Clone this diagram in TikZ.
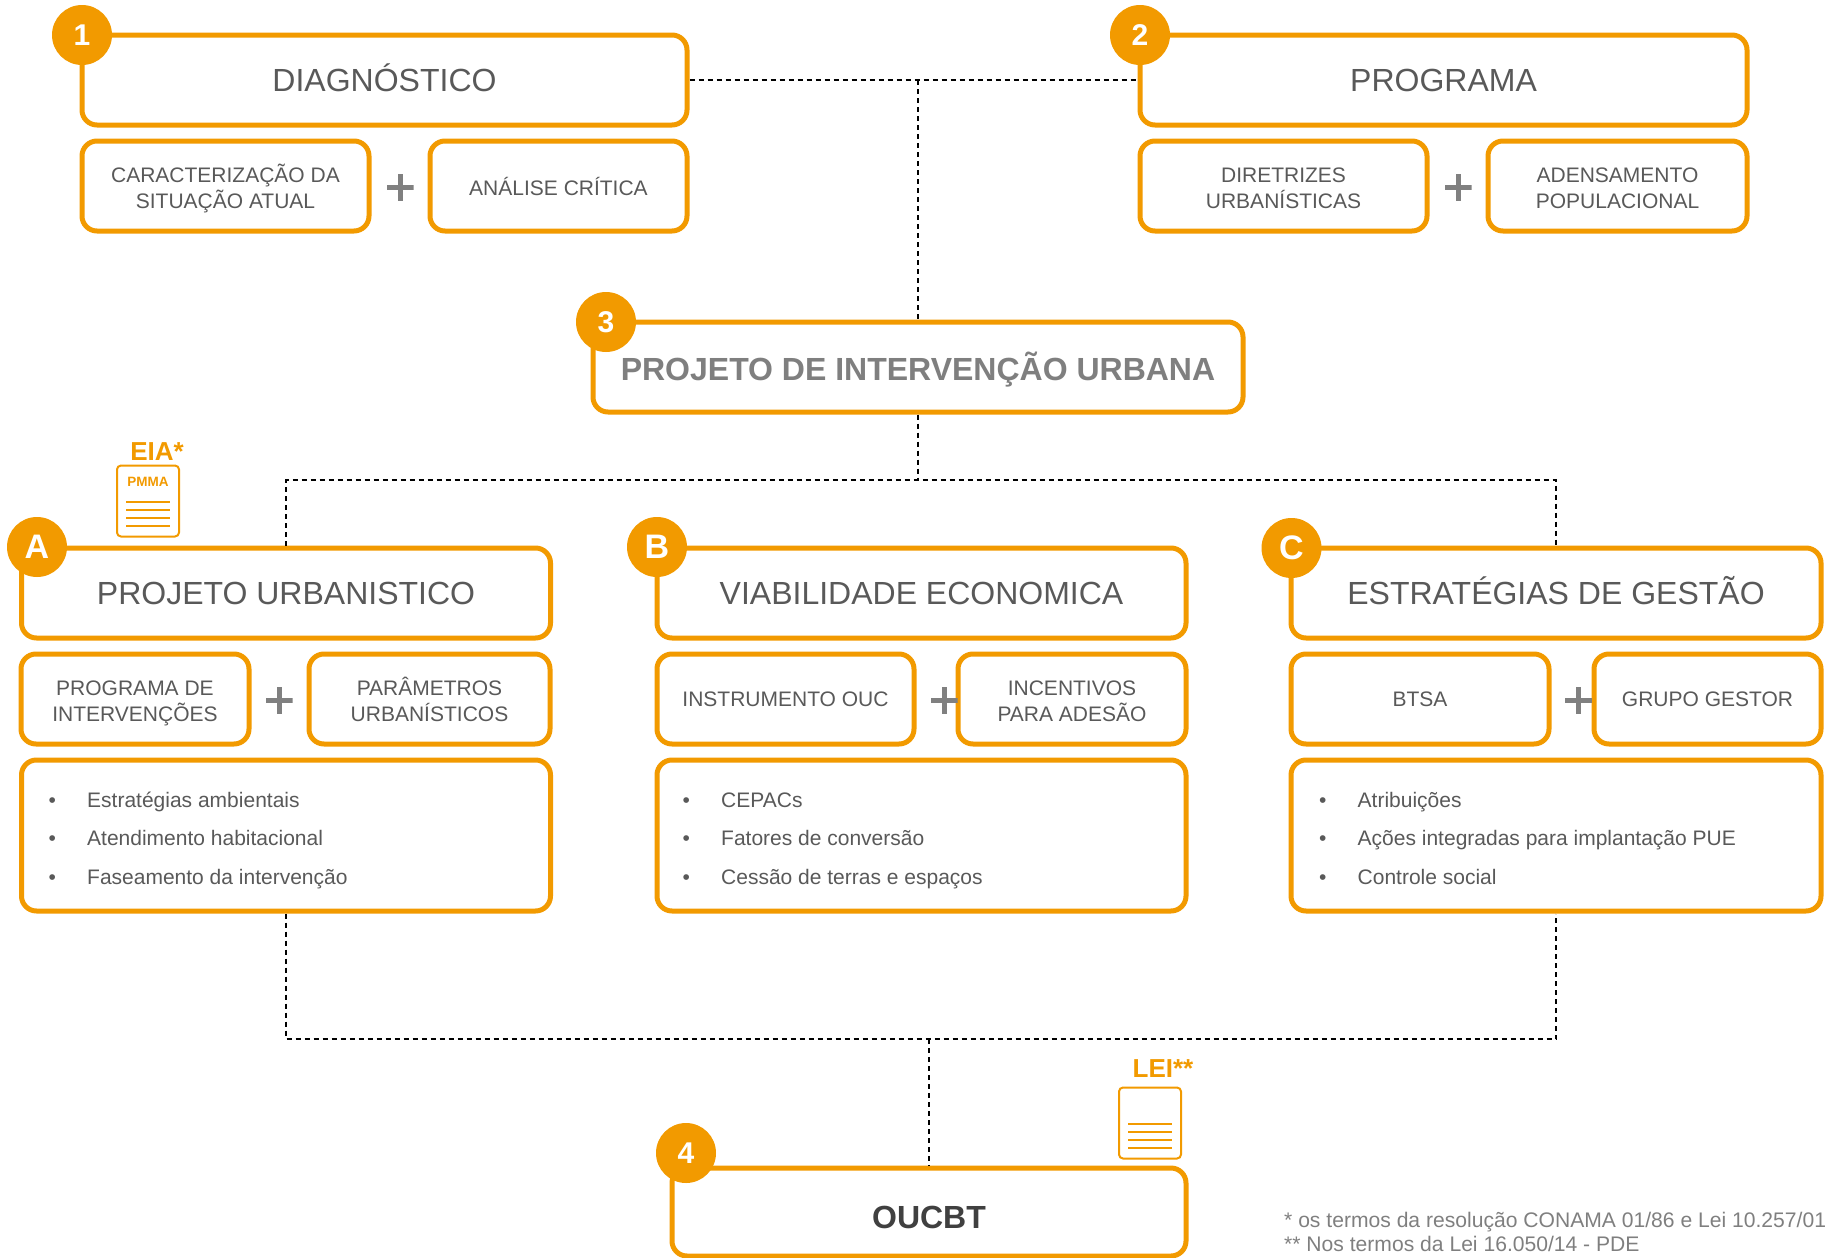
\documentclass[tikz,border=0pt]{standalone}
\usepackage{fontspec}
\setmainfont{Liberation Sans}
\definecolor{org}{HTML}{F29A00}
\definecolor{txt}{HTML}{595959}
\definecolor{piugray}{HTML}{7F7F7F}
\definecolor{dark}{HTML}{404040}
\definecolor{plusgray}{HTML}{808080}
\definecolor{foot}{HTML}{7F7F7F}
\newcommand\mytwo[2]{\raisebox{-9.25pt}[0pt][0pt]{\begin{tabular}{@{}c@{}}#1\\#2\end{tabular}}}
\begin{document}
\begin{tikzpicture}[x=1pt,y=-1pt,
  box/.style={draw=org, line width=5pt, rounded corners=15pt, fill=white, inner sep=0pt, text=txt},
  title/.style={box, minimum height=90pt, font=\fontsize{32}{38}\selectfont, text height=23pt, text depth=0pt},
  sub/.style={box, minimum height=90pt, font=\fontsize{21}{25.7}\selectfont, align=center},
  list/.style={box, minimum height=151pt},
  num/.style={circle, fill=org, minimum size=60pt, inner sep=0pt, text=white, font=\fontsize{30}{30}\selectfont\bfseries},
  letter/.style={font=\fontsize{34}{34}\selectfont\bfseries},
  conn/.style={draw=black, line width=1.5pt, dash pattern=on 5pt off 4pt},
  plus/.style={minimum size=27pt, inner sep=0pt, path picture={
     \fill[plusgray] ([xshift=-2.5pt]path picture bounding box.north) rectangle ([xshift=2.5pt]path picture bounding box.south);
     \fill[plusgray] ([yshift=2.5pt]path picture bounding box.west) rectangle ([yshift=-2.5pt]path picture bounding box.east);}},
  item/.style={anchor=base west, inner sep=0pt, text=txt, font=\fontsize{21}{25}\selectfont},
  doc/.style={draw=org, line width=2pt, rounded corners=4pt, fill=white, minimum width=62pt, minimum height=71pt, inner sep=0pt,
     path picture={\foreach \dy in {0.5,8.5,16.5,24.5}{\draw[org, line width=2pt] ([xshift=9pt,yshift=-\dy pt]path picture bounding box.west) -- ([xshift=-9pt,yshift=-\dy pt]path picture bounding box.east);}}},
  tag/.style={inner sep=0pt, text=org, font=\fontsize{26}{26}\selectfont\bfseries},
  note/.style={anchor=base west, inner sep=0pt, text=foot, font=\fontsize{21.1}{26}\selectfont}
]
\useasboundingbox (0,0) rectangle (1832,1258);

% junction coordinates
\coordinate (j12) at (918,80);
\coordinate (j3) at (918,480);
\coordinate (jA) at (286,480);
\coordinate (jC) at (1556,480);
\coordinate (kA) at (286,1039);
\coordinate (kC) at (1556,1039);
\coordinate (k4) at (929,1039);

% 1 DIAGNOSTICO
\node[title, minimum width=605pt] (diag) at (384.5,80) {DIAGNÓSTICO};
\node[sub, minimum width=287pt] (carac) at (225.5,186) {\mytwo{CARACTERIZAÇÃO DA}{SITUAÇÃO ATUAL}};
\node[sub, minimum width=257pt] (anal) at (558.5,186) {ANÁLISE CRÍTICA};
\node[plus] (plus1) at (400,187) {};

% 2 PROGRAMA
\node[title, minimum width=607pt] (prog) at (1443.5,80) {PROGRAMA};
\node[sub, minimum width=287pt] (diret) at (1283.5,186) {\mytwo{DIRETRIZES}{URBANÍSTICAS}};
\node[sub, minimum width=259pt] (adens) at (1617.5,186) {\mytwo{ADENSAMENTO}{POPULACIONAL}};
\node[plus] (plus2) at (1458,187) {};

% 3 PIU
\node[title, minimum width=650pt, text=piugray, text height=27pt, font=\fontsize{32}{38}\selectfont\bfseries] (piu) at (918,367) {PROJETO DE INTERVENÇÃO URBANA};

% A
\node[title, minimum width=529pt] (pu) at (286,593) {PROJETO URBANISTICO};
\node[sub, minimum width=228pt] (progint) at (135,699) {\mytwo{PROGRAMA DE}{INTERVENÇÕES}};
\node[sub, minimum width=241pt] (param) at (429.5,699) {\mytwo{PARÂMETROS}{URBANÍSTICOS}};
\node[plus] (plusA) at (279,700) {};
\node[list, minimum width=529pt] (listA) at (286,835.5) {};
\node[item] (a1) at (48.5,807) {\makebox[38.5pt][l]{•}Estratégias ambientais};
\node[item] (a2) at (48.5,845.5) {\makebox[38.5pt][l]{•}Atendimento habitacional};
\node[item] (a3) at (48.5,884) {\makebox[38.5pt][l]{•}Faseamento da intervenção};

% B
\node[title, minimum width=529pt] (ve) at (921.5,593) {VIABILIDADE ECONOMICA};
\node[sub, minimum width=257pt] (instr) at (785.5,699) {INSTRUMENTO OUC};
\node[sub, minimum width=228pt] (incent) at (1072,699) {\mytwo{INCENTIVOS}{PARA ADESÃO}};
\node[plus] (plusB) at (944,700) {};
\node[list, minimum width=529pt] (listB) at (921.5,835.5) {};
\node[item] (b1) at (682.5,807) {\makebox[38.5pt][l]{•}CEPACs};
\node[item] (b2) at (682.5,845.5) {\makebox[38.5pt][l]{•}Fatores de conversão};
\node[item] (b3) at (682.5,884) {\makebox[38.5pt][l]{•}Cessão de terras e espaços};

% C
\node[title, minimum width=530pt] (eg) at (1556,593) {ESTRATÉGIAS DE GESTÃO};
\node[sub, minimum width=258pt] (btsa) at (1420,699) {BTSA};
\node[sub, minimum width=227pt] (grupo) at (1707.5,699) {GRUPO GESTOR};
\node[plus] (plusC) at (1578.5,700) {};
\node[list, minimum width=530pt] (listC) at (1556,835.5) {};
\node[item] (c1) at (1319,807) {\makebox[38.5pt][l]{•}Atribuições};
\node[item] (c2) at (1319,845.5) {\makebox[38.5pt][l]{•}Ações integradas para implantação PUE};
\node[item] (c3) at (1319,884) {\makebox[38.5pt][l]{•}Controle social};

% 4 OUCBT
\node[title, minimum width=514pt, minimum height=88pt, text=dark, text height=33pt, font=\fontsize{32}{38}\selectfont\bfseries] (oucbt) at (929,1212) {OUCBT};

% connectors
\draw[conn] (diag.east) -- (prog.west);
\draw[conn] (j12) -- (piu.north);
\draw[conn] (piu.south) -- (j3);
\draw[conn] (pu.north) -- (jA) -- (jC) -- (eg.north);
\draw[conn] (listA.south) -- (kA) -- (kC) -- (listC.south);
\draw[conn] (k4) -- (oucbt.north);

% number badges
\node[num] (n1) at (82,35) {1};
\node[num] (n2) at (1140,35) {2};
\node[num] (n3) at (606,322) {3};
\node[num] (n4) at (686,1153) {4};
\node[num, letter] (nA) at (37,547) {A};
\node[num, letter] (nB) at (657,547) {B};
\node[num, letter] (nC) at (1291.5,548) {C};

% documents
\node[doc] (eiadoc) at (148,501) {};
\node[inner sep=0pt, text=org, font=\fontsize{13.5}{14}\selectfont\bfseries] (pmma) at (148,482) {PMMA};
\node[tag] (eia) at (157,452) {EIA*};
\node[doc] (leidoc) at (1150,1123) {};
\node[tag] (lei) at (1163,1069) {LEI**};

% footnotes
\node[note] (fn1) at (1284,1227) {* os termos da resolução CONAMA 01/86 e Lei 10.257/01};
\node[note] (fn2) at (1284,1251) {** Nos termos da Lei 16.050/14 - PDE};
\end{tikzpicture}
\end{document}
